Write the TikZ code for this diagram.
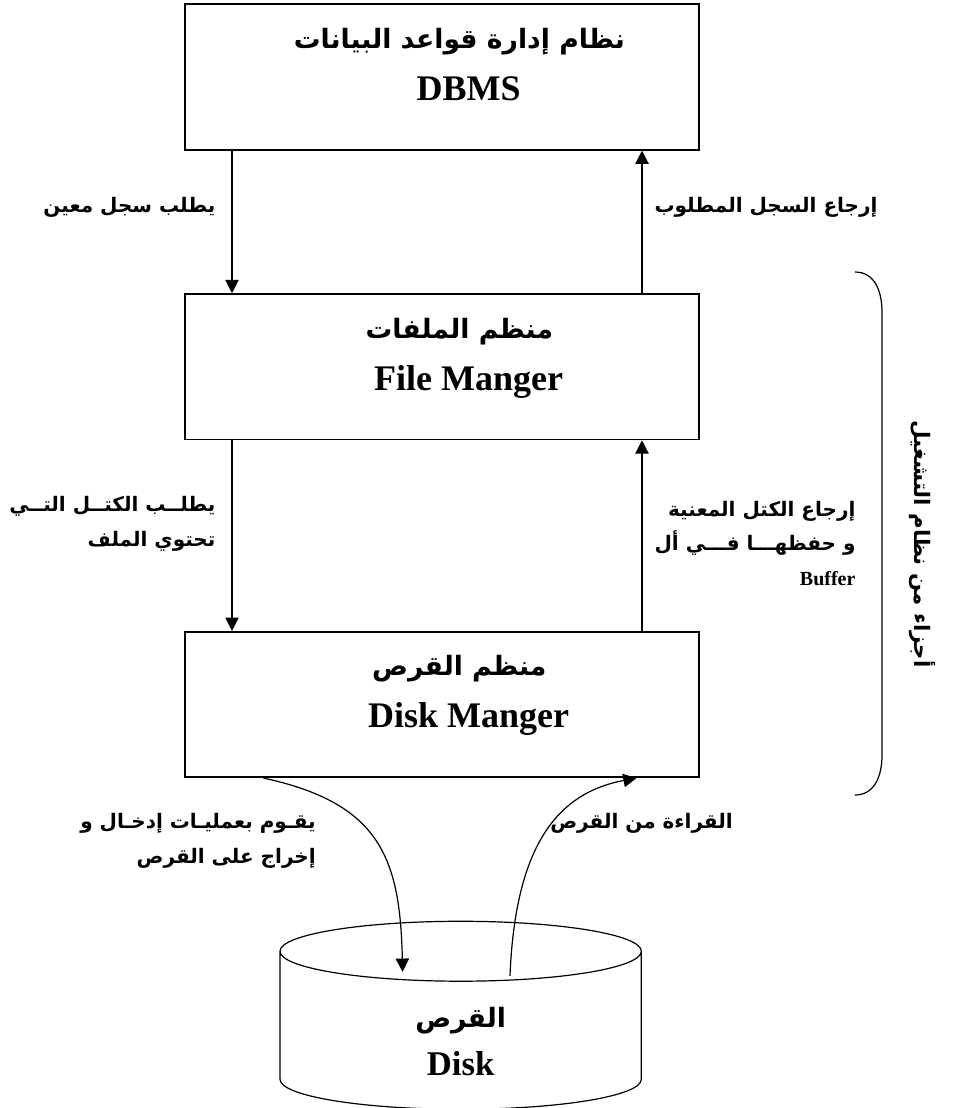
\documentclass[tikz,border=0pt]{standalone}
\usepackage{fontspec}
\setmainfont{Liberation Serif}
\newfontfamily\arabicfont[Script=Arabic]{DejaVu Sans}
\TeXXeTstate=1
\usetikzlibrary{arrows.meta,positioning,shapes.geometric}
\newcommand{\ar}[1]{{\arabicfont\bfseries\beginR #1\endR}}
\newcommand{\shr}{\hspace*{26pt}}
\newcommand{\shl}{\hspace*{40pt}}

\begin{document}
\begin{tikzpicture}[
        x=0.75pt, y=-0.75pt,
        mgr/.style={draw, line width=1.3pt, minimum width=386pt, minimum height=109pt,
                    align=center, inner sep=0pt, font=\fontsize{27}{31}\selectfont\bfseries},
        lbl/.style={align=right, inner sep=0pt, font=\fontsize{15}{26}\selectfont\bfseries},
        drum/.style={draw, cylinder, shape border rotate=90, aspect=0.66, line width=0.9pt,
                     minimum width=271pt, minimum height=141pt, align=center, inner sep=0pt,
                     font=\fontsize{26}{31}\selectfont\bfseries},
        arr/.style={-{Triangle[length=10pt,width=10pt]}, line width=0.9pt}
      ]
        \useasboundingbox (0,0) rectangle (957,1108);
        % the three layers
        \node[mgr] (dbms) at (442,77)
          {\shr{\fontsize{20}{24}\selectfont\ar{نظام إدارة قواعد البيانات}}\\[8pt]\shl DBMS\\[-12pt]\mbox{}};
        \node[mgr, below=107pt of dbms] (fm)
          {\shr{\fontsize{20}{24}\selectfont\ar{منظم الملفات}}\\[8pt]\shl File Manger\\[-12pt]\mbox{}};
        \node[mgr, below=143pt of fm] (dm)
          {\shr{\fontsize{20}{24}\selectfont\ar{منظم القرص}}\\[8pt]\shl Disk Manger\\[-12pt]\mbox{}};
        \node[drum, below=107pt of dm, xshift=14pt] (disk)
          {\mbox{}\\{\fontsize{20}{24}\selectfont\ar{القرص}}\\[5pt]Disk};
        % requests down, answers up
        \draw[arr] ([xshift=-157.5pt]dbms.south) -- ([xshift=-157.5pt]fm.north)
          node[lbl, pos=0.4, left=12pt] {\ar{يطلب سجل معين}};
        \draw[arr] ([xshift=150pt]fm.north) -- ([xshift=150pt]dbms.south)
          node[lbl, pos=0.6, right=9pt] {\ar{إرجاع السجل المطلوب}};
        \draw[arr] ([xshift=-157.5pt]fm.south) -- ([xshift=-157.5pt]dm.north)
          node[lbl, pos=0.44, left=12pt] {\ar{يطلــب الكتــل التــي}\\\ar{تحتوي الملف}};
        \draw[arr] ([xshift=150pt]dm.north) -- ([xshift=150pt]fm.south)
          node[lbl, pos=0.46, right=9pt]
          {\ar{إرجاع الكتل المعنية}\\\ar{و حفظهـــا فـــي أل}\\Buffer};
        % disk i/o
        \coordinate (wr) at ([xshift=-43.5pt, yshift=44pt]disk.center);
        \coordinate (rd) at ([xshift=37pt, yshift=41pt]disk.center);
        \draw[arr] ([xshift=-134pt]dm.south) .. controls +(88pt,-19pt) and +(-2pt,85pt) .. (wr);
        \draw[arr] (rd) .. controls +(4pt,100pt) and +(-58pt,-11pt) .. ([xshift=146pt]dm.south);
        \node[lbl, anchor=north east] (wlbl) at (316,813)
          {\ar{يقـوم بعمليـات إدخـال و}\\\ar{إخراج على القرص}};
        \node[lbl, anchor=north west] (rlbl) at (550,813) {\ar{القراءة من القرص}};
        % operating system brace
        \draw[line width=0.9pt] (855,272) .. controls (874,272) and (882,290) .. (882,312)
          -- (882,755) .. controls (882,777) and (874,795) .. (855,795);
        \node[rotate=-90, inner sep=0pt, font=\fontsize{16}{19}\selectfont\bfseries] (os) at (922,544)
          {\ar{أجزاء من نظام التشغيل}};
      \end{tikzpicture}
\end{document}
